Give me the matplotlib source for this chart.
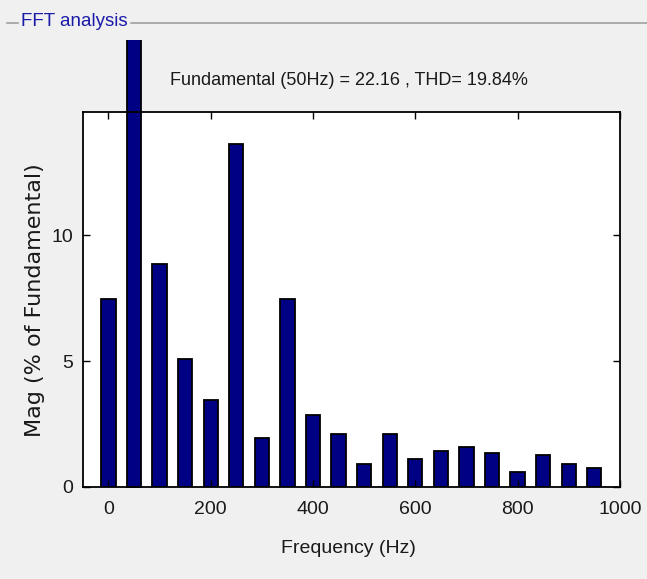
import numpy as np
import matplotlib
matplotlib.use('Agg')
import matplotlib.pyplot as plt
from matplotlib.lines import Line2D
from matplotlib.transforms import Bbox, TransformedBbox

# harmonic spectrum, % of fundamental (50 Hz bar = 100%)
freq = [0, 50, 100, 150, 200, 250, 300, 350, 400, 450,
        500, 550, 600, 650, 700, 750, 800, 850, 900, 950]
mag = [7.46, 100.0, 8.84, 5.08, 3.45, 13.6, 1.93, 7.46, 2.86, 2.09,
       0.9, 2.09, 1.1, 1.43, 1.6, 1.34, 0.6, 1.26, 0.93, 0.76]
xticks = [0, 200, 400, 600, 800, 1000]
yticks = [0, 5, 10]

arial = ['Liberation Sans', 'DejaVu Sans']
txt = '#1a1a1a'
bg = '#f0f0f0'

fig = plt.figure(figsize=(6.47, 5.79), dpi=100, facecolor=bg)
ax = fig.add_axes([0.128, 0.159, 0.830, 0.648])

bars = ax.bar(freq, mag, width=28, color='#000084', edgecolor='black', linewidth=1.3)
# fundamental bar runs past the axes top, cut by the panel
clip = TransformedBbox(Bbox([[0, 0], [1, 0.931]]), fig.transFigure)
bars[1].set_clip_box(clip)

ax.set_xlim(-50, 1000)
ax.set_ylim(0, 14.9)
ax.set_xticks(xticks)
ax.set_yticks(yticks)
ax.tick_params(direction='in', top=True, right=True, length=5, width=1,
               labelsize=14, labelcolor=txt)
ax.tick_params(axis='x', pad=10)
ax.tick_params(axis='y', pad=7)
for lab in ax.get_xticklabels() + ax.get_yticklabels():
    lab.set_family(arial)
for s in ax.spines.values():
    s.set_linewidth(1.3)

ax.set_xlabel('Frequency (Hz)', family=arial, fontsize=14, color=txt, va='center')
ax.xaxis.set_label_coords(0.495, -0.163)
ax.set_ylabel('Mag (% of Fundamental)', family=['DejaVu Sans'], fontsize=16,
              color=txt, va='center', ha='center')
ax.yaxis.set_label_coords(-0.089, 0.499)

fig.text(0.539, 0.861, 'Fundamental (50Hz) = 22.16 , THD= 19.84%', family=arial,
         fontsize=13, color=txt, ha='center', va='center')

# panel frame
fig.add_artist(Line2D([0.011, 0.028], [0.960, 0.960], color='#a0a0a0', lw=1.2))
fig.add_artist(Line2D([0.202, 1.0], [0.960, 0.960], color='#a0a0a0', lw=1.2))
fig.text(0.033, 0.963, 'FFT analysis', family=arial, fontsize=13.5,
         color='#1a1aa8', ha='left', va='center')

fig.savefig('out.png', dpi=100, facecolor=bg)
